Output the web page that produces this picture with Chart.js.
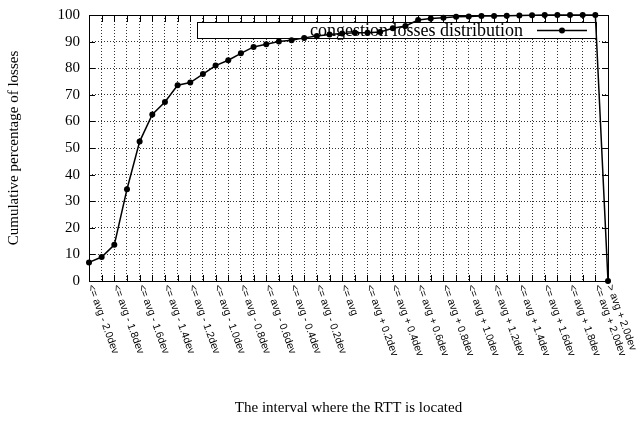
<!DOCTYPE html>
<html>
<head>
<meta charset="utf-8">
<script src="https://cdn.jsdelivr.net/npm/chart.js@4.4.0/dist/chart.umd.min.js"></script>
<style>
  html, body { margin: 0; padding: 0; background: #fff; }
</style>
</head>
<body>
<canvas id="myChart" width="637" height="421"></canvas>
<script>
// one entry per point; the odd steps carry no tick label
var categories = [
  "<= avg - 2.0dev", "", "<= avg - 1.8dev", "", "<= avg - 1.6dev", "",
  "<= avg - 1.4dev", "", "<= avg - 1.2dev", "", "<= avg - 1.0dev", "",
  "<= avg - 0.8dev", "", "<= avg - 0.6dev", "", "<= avg - 0.4dev", "",
  "<= avg - 0.2dev", "", "<= avg", "",
  "<= avg + 0.2dev", "", "<= avg + 0.4dev", "", "<= avg + 0.6dev", "",
  "<= avg + 0.8dev", "", "<= avg + 1.0dev", "", "<= avg + 1.2dev", "",
  "<= avg + 1.4dev", "", "<= avg + 1.6dev", "", "<= avg + 1.8dev", "",
  "<= avg + 2.0dev", "> avg + 2.0dev"
];
var lossPct = [
  7.0, 9.0, 13.6, 34.5, 52.4, 62.6, 67.3, 73.6, 74.6, 77.8,
  81.0, 83.0, 85.6, 88.0, 89.0, 90.0, 90.5, 91.4, 92.1, 92.7,
  93.0, 93.3, 93.3, 93.6, 95.0, 95.9, 98.1, 98.7, 99.0, 99.3,
  99.4, 99.6, 99.6, 99.7, 99.8, 99.9, 100, 100, 100, 100,
  100, 0
];
var yTicks = [0, 10, 20, 30, 40, 50, 60, 70, 80, 90, 100];
var seriesName = "congestion losses distribution";

var serif = '"Liberation Serif", "Times New Roman", serif';
Chart.defaults.font.family = serif;
Chart.defaults.color = '#000';

// gnuplot style frame, inward ticks, key box and rotated x labels
var gnuplotLook = {
  id: 'gnuplotLook',
  beforeDatasetsDraw: function(chart) {
    var ctx = chart.ctx, a = chart.chartArea;
    var xs = chart.scales.x, ys = chart.scales.y;
    ctx.save();
    ctx.strokeStyle = '#000';
    ctx.lineWidth = 1;
    ctx.strokeRect(a.left + 0.5, a.top + 0.5, a.right - a.left, a.bottom - a.top);
    ctx.beginPath();
    for (var i = 0; i < categories.length; i++) {
      var px = Math.round(xs.getPixelForValue(i)) + 0.5;
      ctx.moveTo(px, a.bottom); ctx.lineTo(px, a.bottom - 6);
      ctx.moveTo(px, a.top); ctx.lineTo(px, a.top + 7);
    }
    yTicks.forEach(function(v) {
      var py = Math.round(ys.getPixelForValue(v)) + 0.5;
      ctx.moveTo(a.left, py); ctx.lineTo(a.left + 6, py);
      ctx.moveTo(a.right, py); ctx.lineTo(a.right - 6, py);
    });
    ctx.stroke();

    // key
    var kx0 = a.left + 108, kx1 = a.right - 12, ky0 = a.top + 7, ky1 = a.top + 23;
    ctx.fillStyle = '#fff';
    ctx.fillRect(kx0, ky0, kx1 - kx0, ky1 - ky0);
    ctx.strokeRect(kx0 + 0.5, ky0 + 0.5, kx1 - kx0, ky1 - ky0);
    ctx.fillStyle = '#000';
    ctx.font = '18px ' + serif;
    ctx.textAlign = 'right';
    ctx.textBaseline = 'middle';
    ctx.fillText(chart.data.datasets[0].label, a.right - 85, a.top + 16);
    ctx.lineWidth = 1.5;
    ctx.beginPath();
    ctx.moveTo(a.right - 71, a.top + 15.5);
    ctx.lineTo(a.right - 21, a.top + 15.5);
    ctx.stroke();
    ctx.beginPath();
    ctx.arc(a.right - 46, a.top + 15.5, 3, 0, Math.PI * 2);
    ctx.fill();
    ctx.restore();
  },
  afterDraw: function(chart) {
    var ctx = chart.ctx, a = chart.chartArea, xs = chart.scales.x;
    ctx.save();
    ctx.fillStyle = '#000';
    ctx.font = '10.5px "Liberation Sans", Arial, sans-serif';
    ctx.textAlign = 'left';
    ctx.textBaseline = 'middle';
    categories.forEach(function(lab, i) {
      if (!lab) return;
      ctx.save();
      ctx.translate(xs.getPixelForValue(i) + 1.5, a.bottom + 4);
      ctx.rotate(70 * Math.PI / 180);
      ctx.fillText(lab, 0, 0);
      ctx.restore();
    });
    ctx.restore();
  }
};

var ctx = document.getElementById("myChart");
var myLineChart = new Chart(ctx, {
  type: 'line',
  data: {
    labels: categories,
    datasets: [{
      label: seriesName,
      data: lossPct,
      fill: false,
      tension: 0,
      borderColor: '#000',
      borderWidth: 1.5,
      pointRadius: 3,
      pointBackgroundColor: '#000',
      pointBorderColor: '#000',
      pointBorderWidth: 0,
      clip: false
    }]
  },
  options: {
    responsive: false,
    animation: false,
    layout: { padding: { top: 15, right: 29, left: 0, bottom: 0 } },
    plugins: { legend: { display: false }, tooltip: { enabled: false } },
    scales: {
      x: {
        type: 'category',
        offset: false,
        ticks: { display: false, autoSkip: false },
        grid: { color: 'rgba(0,0,0,0.8)', lineWidth: 1, drawTicks: false },
        border: { display: false, dash: [1, 2] },
        title: {
          display: true,
          text: 'The interval where the RTT is located',
          font: { size: 15, family: serif },
          padding: { top: 4, bottom: 4 }
        },
        afterFit: function(s) { s.height = 140; }
      },
      y: {
        min: 0,
        max: 100,
        ticks: { stepSize: 10, padding: 9, font: { size: 15, family: serif } },
        grid: { color: 'rgba(0,0,0,0.8)', lineWidth: 1, drawTicks: false },
        border: { display: false, dash: [1, 2] },
        title: {
          display: true,
          text: 'Cumulative percentage of losses',
          font: { size: 15, family: serif },
          padding: { top: 5, bottom: 4 }
        },
        afterFit: function(s) { s.width = 89; s.paddingTop = 0; s.paddingBottom = 0; }
      }
    }
  },
  plugins: [gnuplotLook]
});
</script>
</body>
</html>
